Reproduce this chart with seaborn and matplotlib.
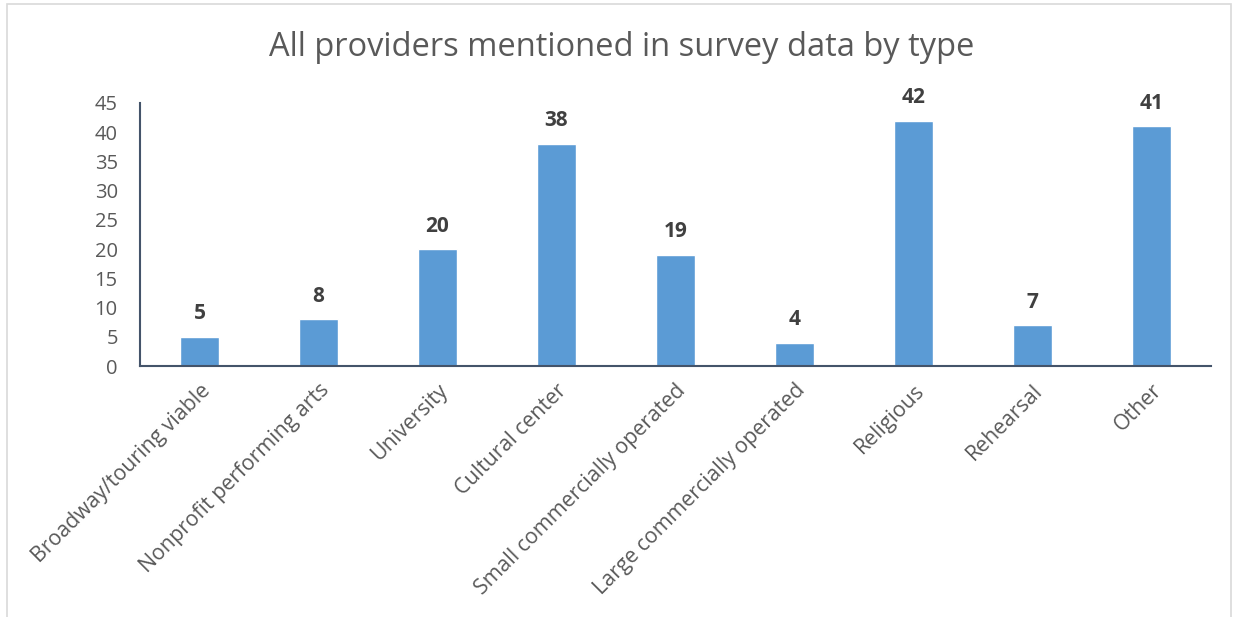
import matplotlib
matplotlib.use('Agg')
import matplotlib.pyplot as plt
import matplotlib.patches as mpatches
import seaborn as sns
import pandas as pd

categorie = ['Broadway/touring viable', 'Nonprofit performing arts', 'University',
             'Cultural center', 'Small commercially operated', 'Large commercially operated',
             'Religious', 'Rehearsal', 'Other']
valori = [5, 8, 20, 38, 19, 4, 42, 7, 41]
tick_y = [0, 5, 10, 15, 20, 25, 30, 35, 40, 45]

sns.set_style('white')
plt.rcParams['font.family'] = ['Open Sans', 'DejaVu Sans']

df = pd.DataFrame({'tipo': categorie, 'n': valori})

fig = plt.figure(figsize=(12.34, 6.17), dpi=100)
ax = fig.add_axes([140 / 1234, 1 - 366 / 617, (1211 - 140) / 1234, (366 - 103) / 617])

sns.barplot(data=df, x='tipo', y='n', color='#5B9BD5', saturation=1, width=0.32, ax=ax)

ax.set_ylim(0, 45)
ax.set_xlim(-0.5, len(categorie) - 0.5)
ax.set_yticks(tick_y)
ax.tick_params(axis='both', length=0, colors='#595959')
ax.tick_params(axis='y', pad=16, labelsize=14.5)
ax.tick_params(axis='x', pad=10, labelsize=15.3)
ax.set_xticks(range(len(categorie)))
ax.set_xticklabels(categorie, rotation=45, ha='right', rotation_mode='anchor')
ax.set_xlabel('')
ax.set_ylabel('')

for lato in ['top', 'right']:
    ax.spines[lato].set_visible(False)
for lato in ['left', 'bottom']:
    ax.spines[lato].set_color('#44546A')
    ax.spines[lato].set_linewidth(1.5)

for cont in ax.containers:
    ax.bar_label(cont, padding=9, fontsize=15, fontweight='bold', color='#404040')

fig.text(0.504, 1 - 47 / 617, 'All providers mentioned in survey data by type',
         ha='center', va='center', fontsize=23.5, color='#595959')

# bordo del grafico
fig.patches.append(mpatches.Rectangle((7 / 1234, -0.01), 1224 / 1234, 1 - 4 / 617 + 0.01,
                                      transform=fig.transFigure, fill=False,
                                      edgecolor='#D9D9D9', linewidth=1.2))

fig.savefig('out.png', dpi=100)
